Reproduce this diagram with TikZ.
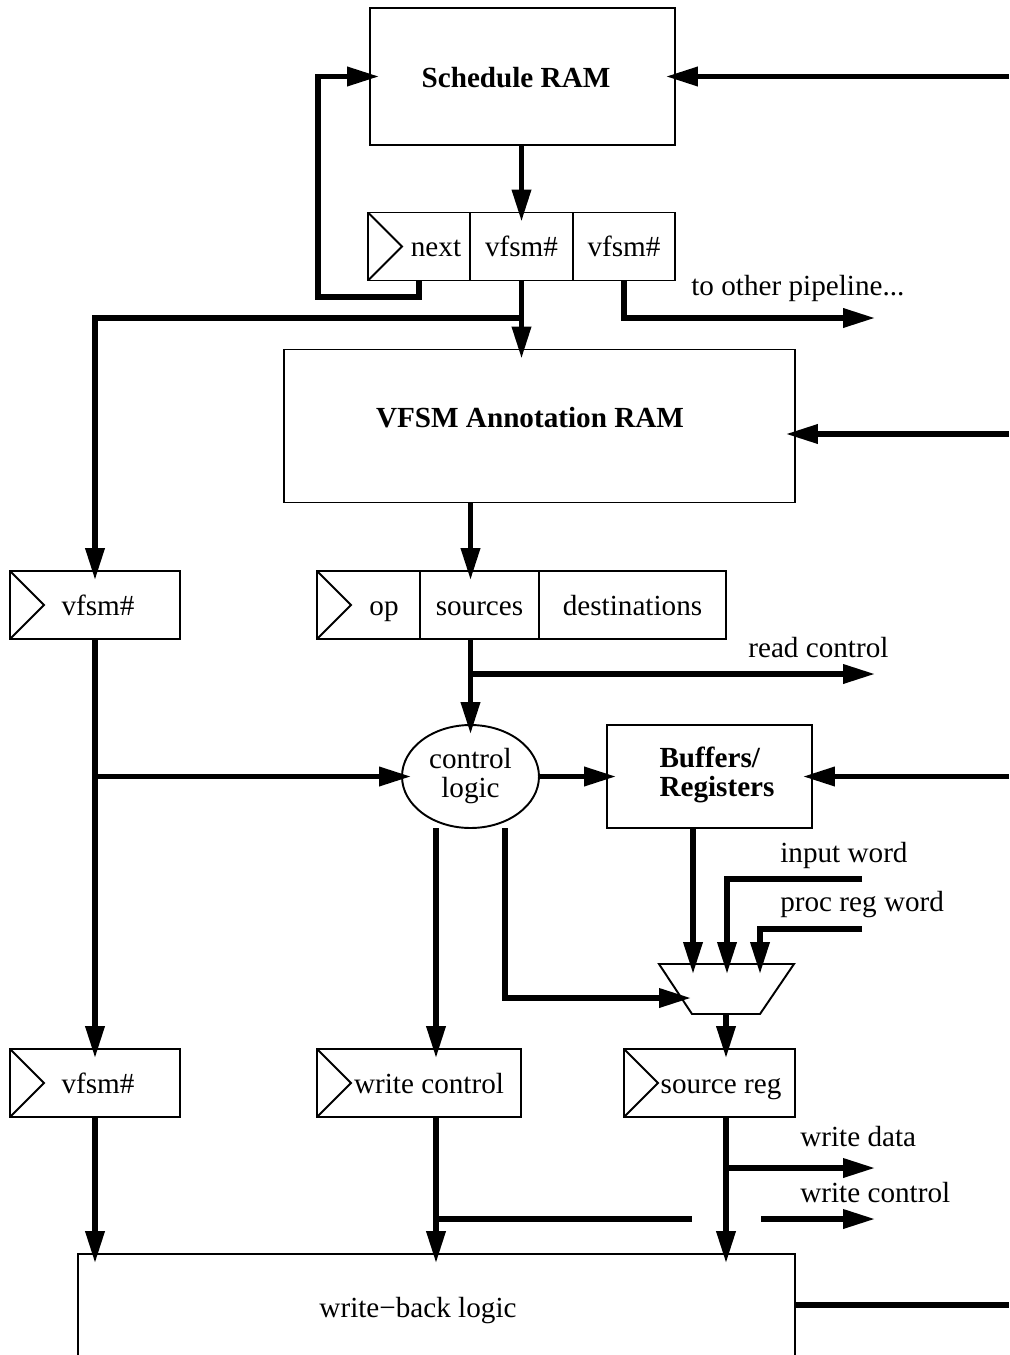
\documentclass[tikz,border=0pt]{standalone}
\usepackage{fontspec}
\setmainfont{Liberation Serif}
\usetikzlibrary{arrows.meta}
\usetikzlibrary{shapes.geometric}
\tikzset{
  unit/.style={draw,line width=1.1pt,inner sep=0pt},
  clkreg/.style={unit,path picture={\draw[line width=1.1pt] (path picture bounding box.north west) -- ([xshift=0.68cm]path picture bounding box.west) -- (path picture bounding box.south west);}},
  celltxt/.style={text height=13pt,text depth=1.6pt},
  boldtxt/.style={font=\fontsize{16.6}{16.5}\selectfont\bfseries},
  lbl/.style={anchor=west,inner xsep=0pt},
  bus/.style={line width=3pt},
  feed/.style={bus,->,shorten >=-0.2cm},
}

\begin{document}
\begin{tikzpicture}[>={Triangle[length=0.64cm,width=0.37cm]},x=0.02cm,y=-0.02cm,font=\fontsize{16.6}{16.5}\selectfont]
\useasboundingbox (0,0) rectangle (1009,1355);
\clip (0,0) rectangle (1009,1355);
% schedule RAM and first register
\node[unit,minimum width=6.1cm,minimum height=2.74cm] (sched) at (522.5,76.5) {};
\node[boldtxt,celltxt] (schedt) at (516,77) {Schedule RAM};
\node[clkreg,minimum width=2.04cm,minimum height=1.36cm] (nextc) at (419,246.5) {};
\node[celltxt] (nextt) at (436,246.5) {next};
\node[unit,celltxt,minimum width=2.06cm,minimum height=1.36cm] (vfsma) at (521.5,246.5) {vfsm\#};
\node[unit,celltxt,minimum width=2.04cm,minimum height=1.36cm] (vfsmb) at (624,246.5) {vfsm\#};
% annotation RAM
\node[unit,minimum width=10.22cm,minimum height=3.06cm] (annot) at (539.5,426) {};
\node[boldtxt,celltxt] (annott) at (530,417) {VFSM Annotation RAM};
% second stage registers
\node[clkreg,minimum width=3.4cm,minimum height=1.36cm] (vfsmL) at (95,605) {};
\node[celltxt] (vfsmLt) at (98,605) {vfsm\#};
\node[clkreg,minimum width=2.06cm,minimum height=1.36cm] (opc) at (368.5,605) {};
\node[celltxt] (opt) at (384,605) {op};
\node[unit,celltxt,minimum width=2.38cm,minimum height=1.36cm] (srcc) at (479.5,605) {sources};
\node[unit,celltxt,minimum width=3.74cm,minimum height=1.36cm] (dstc) at (632.5,605) {destinations};
% control and buffers
\node[unit,ellipse,minimum width=2.74cm,minimum height=2.06cm,align=center] (ctrl) at (470.5,776.5) {control\\logic};
\node[unit,minimum width=4.1cm,minimum height=2.06cm] (buf) at (709.5,776.5) {};
\node[boldtxt,align=left] (buft) at (717,775) {Buffers/\\Registers};
% mux
\draw[line width=1.1pt] (659,964) coordinate (muxtl) -- (794,964) coordinate (muxtr) -- (760,1014) coordinate (muxbr) -- (692,1014) coordinate (muxbl) -- cycle;
% third stage registers
\node[clkreg,minimum width=3.4cm,minimum height=1.36cm] (vfsmM) at (95,1083) {};
\node[celltxt] (vfsmMt) at (98,1083) {vfsm\#};
\node[clkreg,minimum width=4.08cm,minimum height=1.36cm] (wctl) at (419,1083) {};
\node[celltxt] (wctlt) at (429,1083) {write control};
\node[clkreg,minimum width=3.42cm,minimum height=1.36cm] (srcreg) at (709.5,1083) {};
\node[celltxt] (srcregt) at (721,1083) {source reg};
% write-back
\node[unit,minimum width=14.34cm,minimum height=2.92cm] (wb) at (436.5,1327) {};
\node[celltxt] (wbt) at (418,1307) {write−back logic};

% connectors, top part
\coordinate (inS) at (1009,76.5);
\draw[feed] (inS) -- (sched.east);
\coordinate (fbk) at (318,297);
\draw[feed] (nextc.south) |- (fbk) |- (sched.west);
\draw[feed] (vfsma.north |- sched.south) -- (vfsma.north);
\draw[feed] (vfsma.south) -- (annot.north -| vfsma.south);
\coordinate (jA) at (521.5,318);
\draw[feed] (jA) -| (vfsmL.north);
\coordinate (toP) at (875,318);
\draw[bus,->] (vfsmb.south) |- (toP);
\node[lbl] (toPt) at (691,288) {to other pipeline...};
\coordinate (inA) at (1009,434);
\draw[feed] (inA) -- (annot.east |- inA);
\draw[feed] (annot.south -| ctrl.north) -- (srcc.north -| ctrl.north);
% middle part
\draw[feed] (srcc.south -| ctrl.north) -- (ctrl.north);
\coordinate (jR) at (470.5,674);
\coordinate (rdC) at (875,674);
\draw[bus,->] (jR) -- (rdC);
\node[lbl] (rdCt) at (748,648) {read control};
\draw[feed] (vfsmL.south) -- (vfsmM.north);
\draw[feed] (vfsmL.south |- ctrl.west) -- (ctrl.west);
\draw[feed] (ctrl.east) -- (buf.west);
\coordinate (inB) at (1009,776.5);
\draw[feed] (inB) -- (buf.east);
\coordinate (ctlL) at (436,828);
\coordinate (ctlR) at (505,828);
\coordinate (muxS) at (681,998);
\draw[feed] (ctlL) -- (ctlL |- wctl.north);
\draw[feed] (ctlR) |- (muxS);
\coordinate (bufO) at (693,828);
\draw[feed] (bufO) -- (bufO |- muxtl);
\coordinate (inW) at (862,879);
\coordinate (pRW) at (862,929);
\coordinate (mIn2) at (727,964);
\coordinate (mIn3) at (760,964);
\draw[feed] (inW) -| (mIn2);
\draw[feed] (pRW) -| (mIn3);
\node[lbl] (inWt) at (780,855) {input word};
\node[lbl] (pRWt) at (780,905) {proc reg word};
\coordinate (muxO) at (726,1014);
\draw[feed] (muxO) -- (muxO |- srcreg.north);
% bottom part
\draw[feed] (vfsmM.south) -- (vfsmM.south |- wb.north);
\draw[feed] (ctlL |- wctl.south) -- (ctlL |- wb.north);
\draw[feed] (muxO |- srcreg.south) -- (muxO |- wb.north);
\coordinate (jD) at (726,1168);
\coordinate (wDt) at (875,1168);
\draw[bus,->] (jD) -- (wDt);
\node[lbl] (wDtt) at (800,1137) {write data};
\coordinate (jW) at (436,1219);
\coordinate (gapL) at (692,1219);
\coordinate (gapR) at (761,1219);
\coordinate (wCt) at (875,1219);
\draw[bus] (jW) -- (gapL);
\draw[bus,->] (gapR) -- (wCt);
\node[lbl] (wCtt) at (800,1193) {write control};
\coordinate (outW) at (1009,1305);
\draw[bus] (wb.east |- outW) -- (outW);
\end{tikzpicture}
\end{document}
